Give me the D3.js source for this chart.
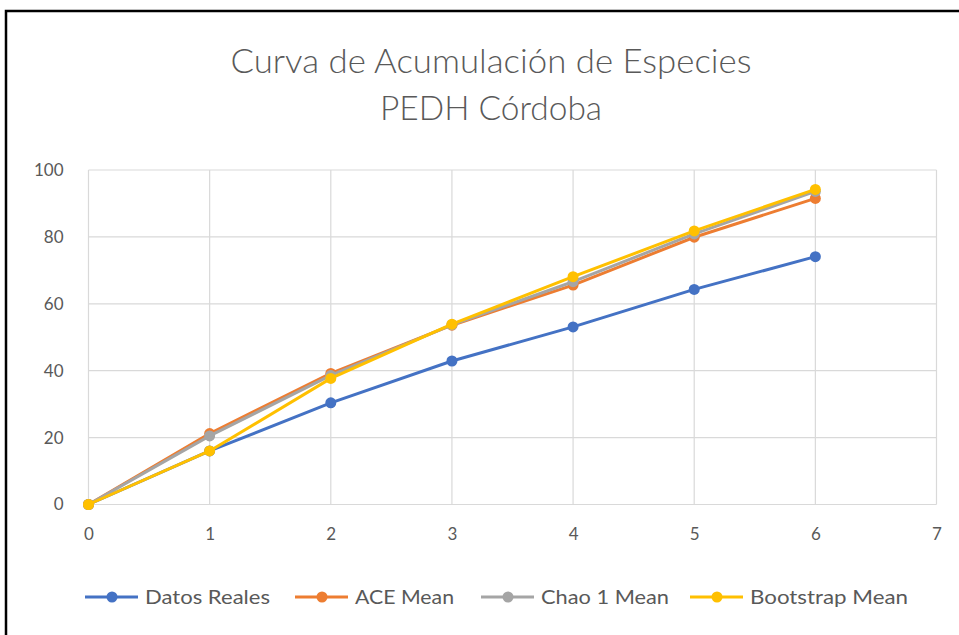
<!DOCTYPE html>
<html>
<head>
<meta charset="utf-8">
<script src="https://cdn.jsdelivr.net/npm/d3@7"></script>
<style>
  html, body { margin: 0; padding: 0; background: #fff; }
  svg { display: block; }
  text { font-family: Lato, "Open Sans", sans-serif; fill: #595959; }
</style>
</head>
<body>
<svg id="chart" width="959" height="635"></svg>
<script>
// Sampling units (x) and accumulated species per estimator
const samples = [0, 1, 2, 3, 4, 5, 6];
const datosReales = [0, 16, 30.4, 42.9, 53.1, 64.3, 74.1];
const aceMean = [0, 21.2, 39.2, 53.6, 65.6, 79.9, 91.5];
const chao1Mean = [0, 20.5, 38.6, 53.7, 66.6, 80.9, 93.6];
const bootstrapMean = [0, 16, 37.7, 53.9, 68.1, 81.8, 94.2];
const seriesNames = ["Datos Reales", "ACE Mean", "Chao 1 Mean", "Bootstrap Mean"];
const seriesColors = ["#4472C4", "#ED7D31", "#A5A5A5", "#FFC000"];
const xTicks = [0, 1, 2, 3, 4, 5, 6, 7];
const yTicks = [0, 20, 40, 60, 80, 100];
const titleLines = ["Curva de Acumulación de Especies", "PEDH Córdoba"];

const series = [datosReales, aceMean, chao1Mean, bootstrapMean].map((vals, i) => ({
  name: seriesNames[i],
  color: seriesColors[i],
  points: samples.map((s, j) => ({ x: s, y: vals[j] }))
}));

const svg = d3.select("#chart");

// Outer chart frame
svg.append("rect")
  .attr("x", 6).attr("y", 11)
  .attr("width", 970).attr("height", 640)
  .attr("fill", "#fff")
  .attr("stroke", "#000").attr("stroke-width", 2.5);

const plot = { left: 88.5, right: 936.5, top: 170, bottom: 504.5 };

const x = d3.scaleLinear().domain([0, 7]).range([plot.left, plot.right]);
const y = d3.scaleLinear().domain([0, 100]).range([plot.bottom, plot.top]);

// Title
const titleWidths = [521, 222];
const title = svg.append("text")
  .attr("text-anchor", "middle")
  .style("font-size", "33px")
  .style("font-weight", 300);
title.selectAll("tspan").data(titleLines).join("tspan")
  .attr("x", 491)
  .attr("y", (d, i) => 73 + i * 47)
  .attr("textLength", (d, i) => titleWidths[i])
  .attr("lengthAdjust", "spacingAndGlyphs")
  .text(d => d);

// Gridlines
const grid = svg.append("g");
grid.selectAll("line.h").data(yTicks).join("line")
  .attr("class", "h")
  .attr("x1", plot.left).attr("x2", plot.right)
  .attr("y1", d => y(d)).attr("y2", d => y(d))
  .attr("stroke", "#d9d9d9").attr("stroke-width", 1.2);
grid.selectAll("line.v").data(xTicks).join("line")
  .attr("class", "v")
  .attr("y1", plot.top).attr("y2", plot.bottom)
  .attr("x1", d => x(d)).attr("x2", d => x(d))
  .attr("stroke", "#d9d9d9").attr("stroke-width", 1.2);

// Axes (labels only; lines are the gridlines)
const yAxis = svg.append("g")
  .attr("transform", `translate(${plot.left},0)`)
  .call(d3.axisLeft(y).tickValues(yTicks).tickFormat(d3.format("d")).tickSize(0).tickPadding(25));
const xAxis = svg.append("g")
  .attr("transform", `translate(0,${plot.bottom})`)
  .call(d3.axisBottom(x).tickValues(xTicks).tickFormat(d3.format("d")).tickSize(0).tickPadding(23));
[xAxis, yAxis].forEach(a => {
  a.select(".domain").remove();
  a.selectAll("text")
    .style("font-size", "17px")
    .style("font-family", "Lato, 'Open Sans', sans-serif")
    .attr("fill", "#595959");
});

// Series lines and markers
const line = d3.line().x(d => x(d.x)).y(d => y(d.y));
const sg = svg.append("g").selectAll("g").data(series).join("g");
sg.append("path")
  .attr("d", d => line(d.points))
  .attr("fill", "none")
  .attr("stroke", d => d.color)
  .attr("stroke-width", 3)
  .attr("stroke-linejoin", "round");
sg.each(function (s) {
  d3.select(this).selectAll("circle").data(s.points).join("circle")
    .attr("cx", d => x(d.x))
    .attr("cy", d => y(d.y))
    .attr("r", 5.5)
    .attr("fill", s.color);
});

// Legend
const legendX = [112, 322, 508, 717];
const legendTextW = [125, 99, 128, 158];
const legend = svg.append("g").selectAll("g").data(series).join("g")
  .attr("transform", (d, i) => `translate(${legendX[i]},597)`);
legend.append("line")
  .attr("x1", -27).attr("x2", 26)
  .attr("stroke", d => d.color).attr("stroke-width", 3);
legend.append("circle")
  .attr("r", 5.5)
  .attr("fill", d => d.color);
legend.append("text")
  .attr("x", 33).attr("y", 6.5)
  .attr("textLength", (d, i) => legendTextW[i])
  .attr("lengthAdjust", "spacingAndGlyphs")
  .style("font-size", "19px")
  .text(d => d.name);
</script>
</body>
</html>
